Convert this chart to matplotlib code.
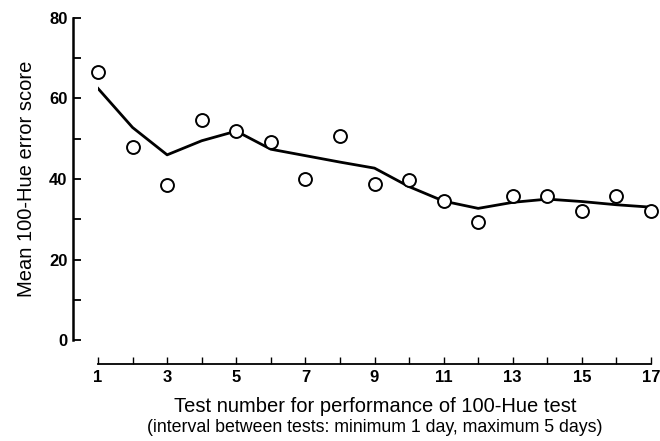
import matplotlib
matplotlib.use("Agg")
import matplotlib.pyplot as plt

plt.rcParams['font.family'] = ['Liberation Sans', 'DejaVu Sans']

tests = list(range(1, 18))
scores = [66.7, 48.0, 38.6, 54.7, 52.0, 49.3, 40.0, 50.7, 38.7, 39.8, 34.5, 29.2, 35.9, 35.9, 32.0, 35.9, 32.0]
trend = [62.5, 52.8, 46.0, 49.5, 51.9, 47.4, 45.8, 44.2, 42.7, 38.1, 34.5, 32.7, 34.2, 35.0, 34.4, 33.6, 33.0]
xticks = list(range(1, 18))
xtick_labels = [str(t) if t % 2 == 1 else '' for t in xticks]
yticks = [0, 20, 40, 60, 80]
yminor = [10, 30, 50, 70]
ylabel = 'Mean 100-Hue error score'
xlabel_1 = 'Test number for performance of 100-Hue test'
xlabel_2 = '(interval between tests: minimum 1 day, maximum 5 days)'

fig = plt.figure(figsize=(6.6, 4.41), dpi=100)
ax = fig.add_axes([98/660, 101/441, 553/660, 322/441])

ax.plot(tests, trend, color='black', lw=2.0, solid_joinstyle='round', zorder=2)
ax.plot(tests, scores, linestyle='none', marker='o', ms=9.3, mfc='white',
        mec='black', mew=1.4, clip_on=False, zorder=3)

ax.set_xlim(1, 17)
ax.set_ylim(0, 80)

for s in ['top', 'right']:
    ax.spines[s].set_visible(False)
ax.spines['left'].set_position(('outward', 18))
ax.spines['bottom'].set_position(('outward', 17.3))
ax.spines['left'].set_linewidth(1.8)
ax.spines['bottom'].set_linewidth(1.3)

ax.set_xticks(xticks)
ax.set_xticklabels(xtick_labels)
ax.set_yticks(yticks)
ax.set_yticks(yminor, minor=True)
ax.tick_params(axis='y', which='both', direction='in', length=6, width=1.3,
               labelsize=12, pad=4)
ax.tick_params(axis='x', which='major', direction='in', length=5, width=1.0,
               labelsize=12, pad=4)
for lab in ax.get_xticklabels() + ax.get_yticklabels():
    lab.set_fontweight('bold')

fig.text(27/660, 0.594, ylabel, rotation=90, ha='center', va='center', fontsize=14.5)
fig.text(375/660, (441-412)/441, xlabel_1, ha='center', va='baseline', fontsize=14.5)
fig.text(375/660, (441-432)/441, xlabel_2, ha='center', va='baseline', fontsize=12.8)

fig.savefig('out.png', dpi=100)
